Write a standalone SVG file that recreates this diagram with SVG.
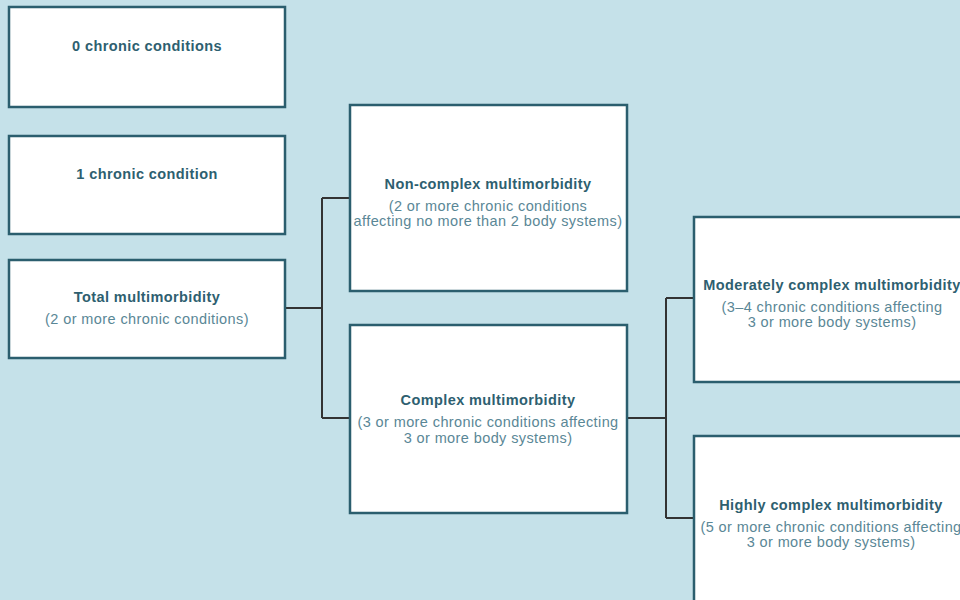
<svg xmlns="http://www.w3.org/2000/svg" width="960" height="600" viewBox="0 0 960 600">
<style>
.box{fill:#ffffff;stroke:#2b5e6e;stroke-width:2.5}
.t{font-family:"Liberation Sans",Arial,sans-serif;font-size:14.5px;letter-spacing:0.4px;font-weight:bold;fill:#2e5f70;text-anchor:middle}
.s{font-family:"Liberation Sans",Arial,sans-serif;font-size:14.5px;letter-spacing:0.4px;fill:#5a8796;text-anchor:middle}
.c{fill:none;stroke:#333333;stroke-width:2}
</style>
<rect x="0" y="0" width="960" height="600" fill="#c5e1e9"/>
<g id="connectors">
<path class="c" d="M286 308 H322 M322 198 V418 M322 198 H350 M322 418 H350"/>
<path class="c" d="M627 418 H666 M666 298 V518 M666 298 H694 M666 518 H694"/>
</g>
<g id="n0">
<rect class="box" x="9" y="7" width="276" height="100"/>
<text class="t" x="147" y="51">0 chronic conditions</text>
</g>
<g id="n1">
<rect class="box" x="9" y="136" width="276" height="98"/>
<text class="t" x="147" y="179">1 chronic condition</text>
</g>
<g id="total">
<rect class="box" x="9" y="260" width="276" height="98"/>
<text class="t" x="147" y="302">Total multimorbidity</text>
<text class="s" x="147" y="324">(2 or more chronic conditions)</text>
</g>
<g id="noncomplex">
<rect class="box" x="350" y="105" width="277" height="186"/>
<text class="t" x="488" y="189">Non-complex multimorbidity</text>
<text class="s" x="488" y="211">(2 or more chronic conditions</text>
<text class="s" x="488" y="226">affecting no more than 2 body systems)</text>
</g>
<g id="complex">
<rect class="box" x="350" y="325" width="277" height="188"/>
<text class="t" x="488" y="405">Complex multimorbidity</text>
<text class="s" x="488" y="427">(3 or more chronic conditions affecting</text>
<text class="s" x="488" y="443">3 or more body systems)</text>
</g>
<g id="moderate">
<rect class="box" x="694" y="217" width="290" height="165"/>
<text class="t" x="832" y="290">Moderately complex multimorbidity</text>
<text class="s" x="832" y="312">(3–4 chronic conditions affecting</text>
<text class="s" x="832" y="327">3 or more body systems)</text>
</g>
<g id="high">
<rect class="box" x="694" y="436" width="290" height="190"/>
<text class="t" x="831" y="510">Highly complex multimorbidity</text>
<text class="s" x="831" y="532">(5 or more chronic conditions affecting</text>
<text class="s" x="831" y="547">3 or more body systems)</text>
</g>
</svg>
